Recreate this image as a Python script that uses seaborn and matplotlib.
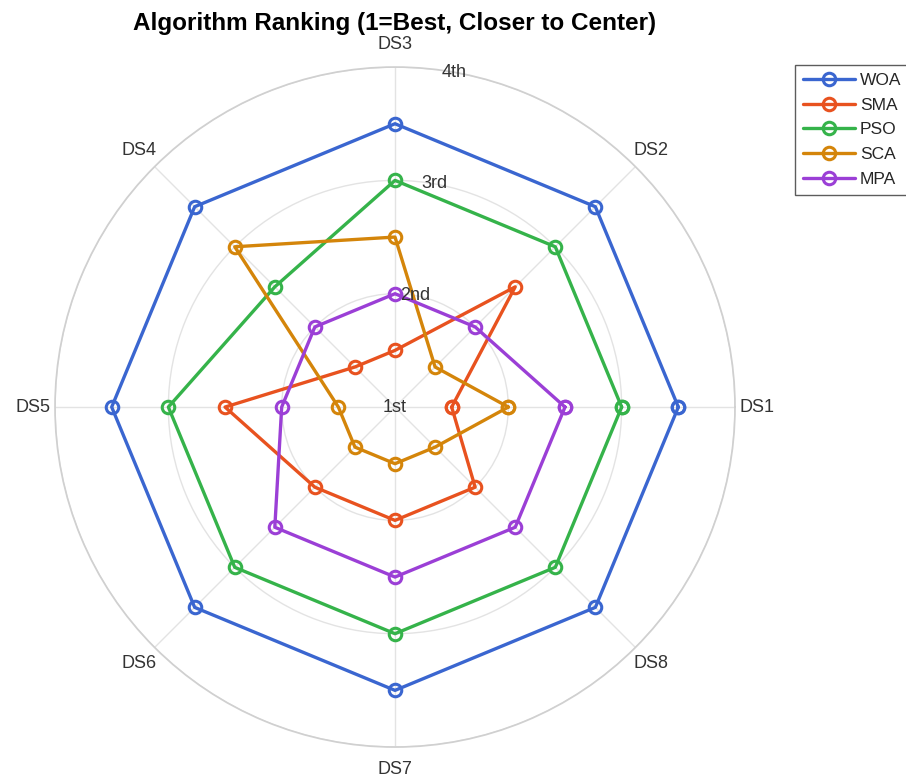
import numpy as np
import pandas as pd
import seaborn as sns
import matplotlib
matplotlib.use("Agg")
import matplotlib.pyplot as plt

# data: rank of each algorithm per dataset (1 = best)
datasets = ["DS1", "DS2", "DS3", "DS4", "DS5", "DS6", "DS7", "DS8"]
algorithms = ["WOA", "SMA", "PSO", "SCA", "MPA"]
woa = [5, 5, 5, 5, 5, 5, 5, 5]
sma = [1, 3, 1, 1, 3, 2, 2, 2]
pso = [4, 4, 4, 3, 4, 4, 4, 4]
sca = [2, 1, 3, 4, 1, 1, 1, 1]
mpa = [3, 2, 2, 2, 2, 3, 3, 3]
colors = ["#3a66d0", "#e8521f", "#35b34a", "#d4850a", "#9b3fd6"]
rank_ticks = [0, 2, 4, 6]
rank_labels = ["1st", "2nd", "3rd", "4th"]

sns.set_theme(style="whitegrid")
plt.rcParams["font.family"] = ["Liberation Sans", "DejaVu Sans"]

angles = np.linspace(0, 2 * np.pi, len(datasets), endpoint=False)
theta = np.append(angles, angles[0])  # close the loop

fig = plt.figure(figsize=(9.06, 7.78), dpi=100)
ax = fig.add_axes([0.0607, 0.0398, 0.7506, 0.874], projection="polar")

for name, vals, col in zip(algorithms, [woa, sma, pso, sca, mpa], colors):
    df = pd.DataFrame({"theta": theta, "rank": vals + vals[:1]})
    sns.lineplot(data=df, x="theta", y="rank", ax=ax, sort=False, estimator=None,
                 color=col, linewidth=2.4, marker="o", markersize=9,
                 markerfacecolor="none", markeredgecolor=col, markeredgewidth=2.2,
                 label=name)

ax.set_xlabel("")
ax.set_ylabel("")
ax.set_xticks(angles)
ax.set_xticklabels(datasets, fontsize=13, color="#333333")
ax.tick_params(axis="x", pad=3)
ax.set_ylim(0, 6)
ax.set_yticks(rank_ticks)
ax.set_yticklabels([])
# rank labels centred on the rings, near the DS3 spoke
for r, lab in zip(rank_ticks, rank_labels):
    ax.text(np.deg2rad(80), r, lab, ha="center", va="center", fontsize=13,
            color="#333333")
ax.grid(True, color="#e3e3e3", linewidth=1)
ax.spines["polar"].set_color("#d0d0d0")

ax.set_title("Algorithm Ranking (1=Best, Closer to Center)", fontsize=17.5,
             fontweight="bold", color="black", y=1.054, pad=0)

leg = ax.legend(loc="upper left", bbox_to_anchor=(1.088, 1.003), borderaxespad=0,
                fontsize=12.5, frameon=True, fancybox=False, labelspacing=0.55,
                handlelength=3.0, handletextpad=0.3, borderpad=0.45)
leg.get_frame().set_edgecolor("#333333")
leg.get_frame().set_linewidth(1)

fig.savefig("out.png", dpi=100)
